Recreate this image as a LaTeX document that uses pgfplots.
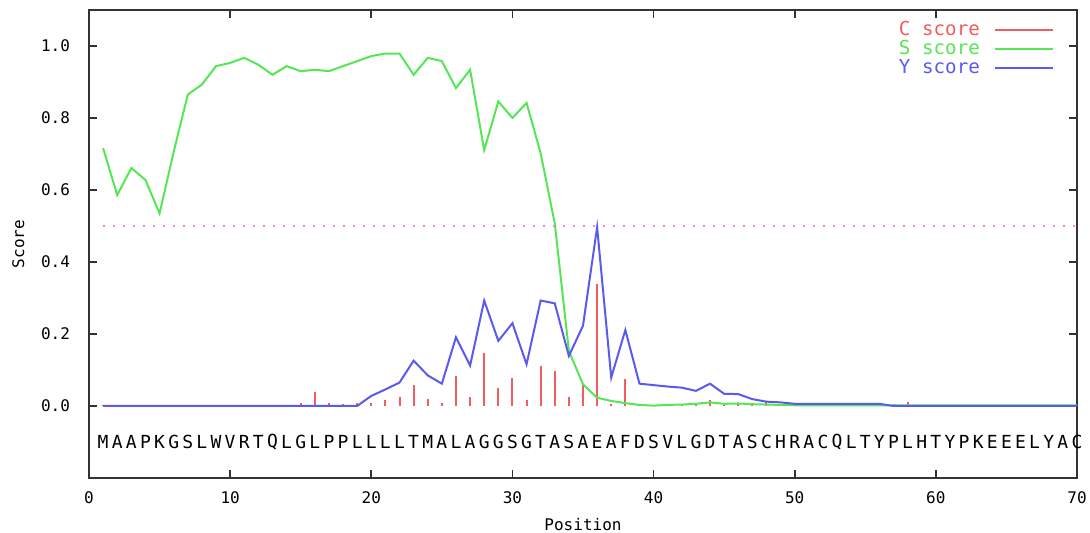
\documentclass[border=0pt]{standalone}
\usepackage{fontspec}
\setmainfont{DejaVu Sans Mono}
\usepackage{pgfplots}
\usepackage{pgfplotstable}
\pgfplotsset{compat=1.18}
\definecolor{cscore}{HTML}{F25C5C}
\definecolor{sscore}{HTML}{55E655}
\definecolor{yscore}{HTML}{5A5AF0}
\definecolor{cutoff}{HTML}{EE80EE}
\definecolor{frame}{HTML}{333333}

\pgfplotstableread{
pos C S Y
1 0.004 0.716 0.000
2 0.004 0.586 0.000
3 0.004 0.661 0.000
4 0.004 0.628 0.000
5 0.004 0.535 0.000
6 0.004 0.706 0.000
7 0.004 0.865 0.000
8 0.004 0.893 0.000
9 0.004 0.944 0.000
10 0.004 0.953 0.000
11 0.004 0.967 0.000
12 0.004 0.948 0.000
13 0.004 0.920 0.000
14 0.004 0.944 0.000
15 0.009 0.930 0.000
16 0.039 0.934 0.000
17 0.009 0.930 0.000
18 0.005 0.944 0.000
19 0.009 0.958 0.000
20 0.009 0.972 0.028
21 0.016 0.979 0.046
22 0.025 0.979 0.065
23 0.059 0.920 0.126
24 0.020 0.967 0.085
25 0.009 0.958 0.062
26 0.084 0.883 0.191
27 0.025 0.934 0.112
28 0.146 0.711 0.293
29 0.049 0.846 0.181
30 0.079 0.800 0.230
31 0.016 0.842 0.116
32 0.112 0.702 0.293
33 0.098 0.507 0.285
34 0.025 0.153 0.139
35 0.062 0.060 0.223
36 0.339 0.023 0.497
37 0.005 0.014 0.079
38 0.074 0.008 0.211
39 0.003 0.003 0.062
40 0.003 0.001 0.058
41 0.003 0.003 0.054
42 0.003 0.004 0.051
43 0.009 0.006 0.042
44 0.016 0.010 0.062
45 0.003 0.006 0.034
46 0.009 0.007 0.033
47 0.003 0.005 0.019
48 0.010 0.004 0.012
49 0.003 0.003 0.010
50 0.003 0.002 0.006
51 0.003 0.002 0.006
52 0.009 0.002 0.006
53 0.003 0.002 0.006
54 0.009 0.002 0.006
55 0.009 0.002 0.006
56 0.003 0.002 0.006
57 0.005 0.002 0.000
58 0.010 0.002 0.000
59 0.004 0.002 0.000
60 0.004 0.002 0.000
61 0.004 0.002 0.000
62 0.004 0.002 0.000
63 0.004 0.002 0.000
64 0.004 0.002 0.000
65 0.004 0.002 0.000
66 0.004 0.002 0.000
67 0.004 0.002 0.000
68 0.004 0.002 0.000
69 0.004 0.002 0.000
70 0.004 0.002 0.000
}\scores

\begin{document}
\begin{tikzpicture}
\useasboundingbox (-44.5pt,-27.5pt) rectangle (500.5pt,239pt);
\begin{axis}[
  scale only axis,
  width=494pt, height=234pt,
  at={(0,0)}, anchor=south west,
  xmin=0, xmax=70, ymin=-0.2, ymax=1.1,
  xtick={0,10,...,70},
  ytick={0,0.2,0.4,0.6,0.8,1.0},
  yticklabel style={xshift=-6pt, /pgf/number format/.cd, fixed, fixed zerofill, precision=1},
  xticklabel style={yshift=-3.5pt},
  /pgf/number format/assume math mode=true,
  tick align=inside,
  axis line style={frame, line width=1pt},
  major tick style={frame, line width=0.9pt},
  major tick length=4pt,
  font=\fontsize{8}{9.6}\selectfont,
  xlabel={Position}, ylabel={Score},
  ylabel style={yshift=1.5pt},
  legend style={draw=none, fill=none, at={(0.977,0.985)}, anchor=north east,
    font=\fontsize{9.6}{10}\selectfont, row sep=-3pt, inner sep=0pt,
    nodes={inner xsep=7pt}},
  legend plot pos=right,
  legend cell align=right,
  legend image code/.code={\draw[#1] (0pt,0pt) -- (29pt,0pt);},
]
\addlegendimage{cscore, line width=1pt}
\addlegendentry{\textcolor{cscore}{C score}}
\addlegendimage{sscore, line width=1pt}
\addlegendentry{\textcolor{sscore}{S score}}
\addlegendimage{yscore, line width=1pt}
\addlegendentry{\textcolor{yscore}{Y score}}
\addplot[cscore, line width=1pt, ycomb, mark=none, forget plot] table[x=pos, y=C] {\scores};
\addplot[sscore, line width=1pt, mark=none, forget plot] table[x=pos, y=S] {\scores};
\addplot[yscore, line width=1pt, mark=none, forget plot] table[x=pos, y=Y] {\scores};
\addplot[cutoff, line width=1.1pt, dash pattern=on 1.1pt off 3.9pt, forget plot] coordinates {(1,0.5) (70,0.5)};
\addplot[draw=none, mark=none, forget plot, nodes near coords, point meta=explicit symbolic,
  every node near coord/.append style={anchor=center, text=black, font=\fontsize{9}{10}\selectfont, inner sep=0pt}]
coordinates {
(1,-0.1)[M] (2,-0.1)[A] (3,-0.1)[A] (4,-0.1)[P] (5,-0.1)[K] (6,-0.1)[G] (7,-0.1)[S] (8,-0.1)[L] (9,-0.1)[W] (10,-0.1)[V]
(11,-0.1)[R] (12,-0.1)[T] (13,-0.1)[Q] (14,-0.1)[L] (15,-0.1)[G] (16,-0.1)[L] (17,-0.1)[P] (18,-0.1)[P] (19,-0.1)[L] (20,-0.1)[L]
(21,-0.1)[L] (22,-0.1)[L] (23,-0.1)[T] (24,-0.1)[M] (25,-0.1)[A] (26,-0.1)[L] (27,-0.1)[A] (28,-0.1)[G] (29,-0.1)[G] (30,-0.1)[S]
(31,-0.1)[G] (32,-0.1)[T] (33,-0.1)[A] (34,-0.1)[S] (35,-0.1)[A] (36,-0.1)[E] (37,-0.1)[A] (38,-0.1)[F] (39,-0.1)[D] (40,-0.1)[S]
(41,-0.1)[V] (42,-0.1)[L] (43,-0.1)[G] (44,-0.1)[D] (45,-0.1)[T] (46,-0.1)[A] (47,-0.1)[S] (48,-0.1)[C] (49,-0.1)[H] (50,-0.1)[R]
(51,-0.1)[A] (52,-0.1)[C] (53,-0.1)[Q] (54,-0.1)[L] (55,-0.1)[T] (56,-0.1)[Y] (57,-0.1)[P] (58,-0.1)[L] (59,-0.1)[H] (60,-0.1)[T]
(61,-0.1)[Y] (62,-0.1)[P] (63,-0.1)[K] (64,-0.1)[E] (65,-0.1)[E] (66,-0.1)[E] (67,-0.1)[L] (68,-0.1)[Y] (69,-0.1)[A] (70,-0.1)[C]
};
\end{axis}
\end{tikzpicture}
\end{document}
